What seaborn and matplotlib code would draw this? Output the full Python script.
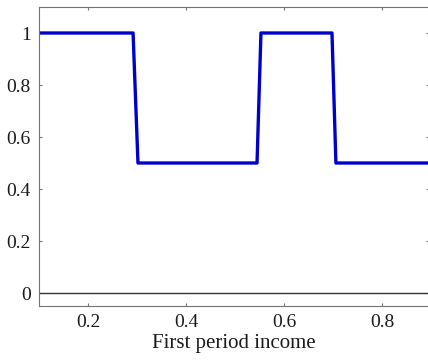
import matplotlib
matplotlib.use("Agg")
import matplotlib.pyplot as plt
import seaborn as sns
import pandas as pd

# step policy
income = [0.1, 0.292, 0.302, 0.545, 0.553, 0.698, 0.706, 0.9]
value = [1.0, 1.0, 0.5, 0.5, 1.0, 1.0, 0.5, 0.5]
xticks = [0.2, 0.4, 0.6, 0.8]
yticks = [0, 0.2, 0.4, 0.6, 0.8, 1]

df = pd.DataFrame({"income": income, "value": value})

sns.set_theme(style="white")
plt.rcParams["font.family"] = ["Liberation Serif", "DejaVu Serif"]

fig = plt.figure(figsize=(4.28, 3.61), dpi=100)
# right edge of the box sits just past the image border, as in the original crop
ax = fig.add_axes([39 / 428, 55 / 361, 390 / 428, 299 / 361])

ax.axhline(0, color="0.2", lw=1.0)
sns.lineplot(data=df, x="income", y="value", ax=ax, color="#0000cc",
             lw=2.4, estimator=None, sort=False)

ax.set_xlim(0.1, 0.896)
ax.set_ylim(-0.05, 1.1)
ax.set_xticks(xticks)
ax.set_xticklabels([f"{t:g}" for t in xticks])
ax.set_yticks(yticks)
ax.set_yticklabels([f"{t:g}" for t in yticks])

for s in ax.spines.values():
    s.set_visible(True)
    s.set_color("0.45")
    s.set_linewidth(0.8)
ax.tick_params(direction="in", length=2.5, width=0.8, color="0.45",
               labelsize=14, labelcolor="#1a1a1a", top=True, right=True,
               bottom=True, left=True, pad=6)
ax.set_xlabel("First period income", fontsize=15, color="#1a1a1a", labelpad=2)
ax.set_ylabel("")

fig.savefig("out.png", dpi=100)
